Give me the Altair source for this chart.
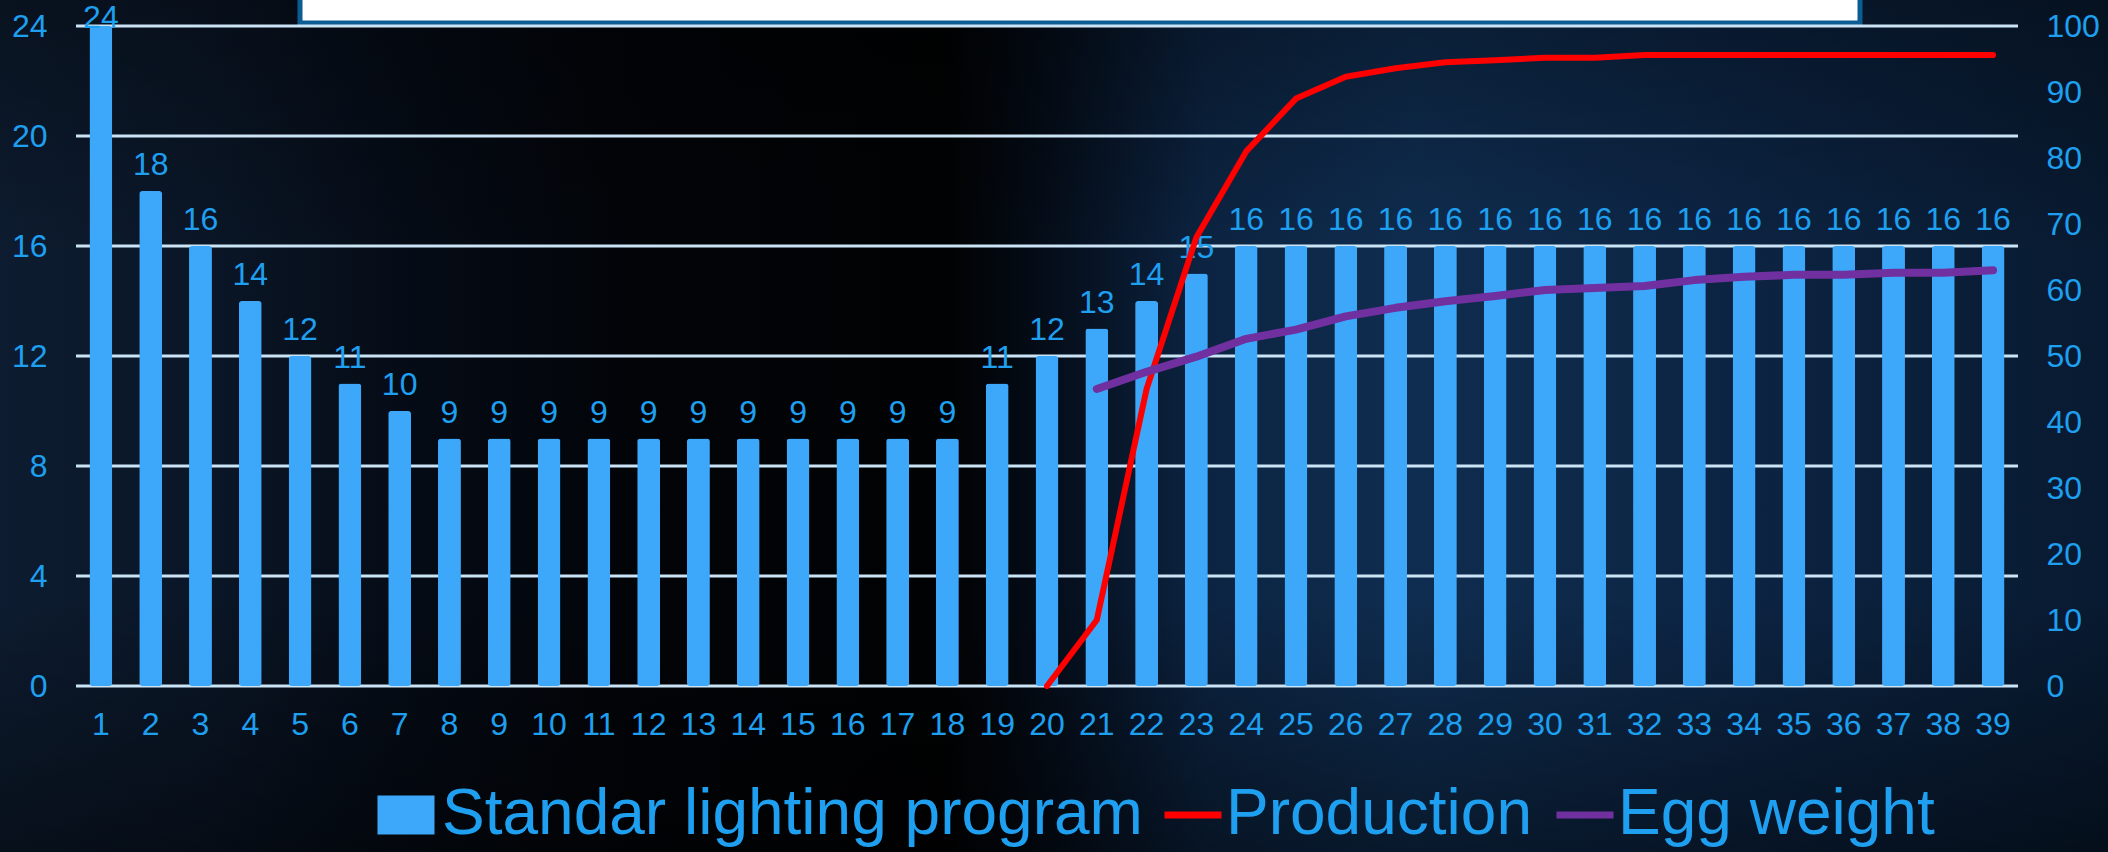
import altair as alt
import pandas as pd

# ---- data -------------------------------------------------------------
weeks = [1, 2, 3, 4, 5, 6, 7, 8, 9, 10, 11, 12, 13, 14, 15, 16, 17, 18, 19, 20,
         21, 22, 23, 24, 25, 26, 27, 28, 29, 30, 31, 32, 33, 34, 35, 36, 37, 38, 39]
light_hours = [24, 18, 16, 14, 12, 11, 10, 9, 9, 9, 9, 9, 9, 9, 9, 9, 9, 9, 11, 12,
               13, 14, 15, 16, 16, 16, 16, 16, 16, 16, 16, 16, 16, 16, 16, 16, 16, 16, 16]

prod_weeks = [20, 21, 22, 23, 24, 25, 26, 27, 28, 29, 30, 31, 32, 33, 34, 35, 36, 37, 38, 39]
production = [0, 10, 45, 68, 81, 89, 92.3, 93.6, 94.5, 94.8, 95.2, 95.2, 95.6, 95.6,
              95.6, 95.6, 95.6, 95.6, 95.6, 95.6]

egg_weeks = [21, 22, 23, 24, 25, 26, 27, 28, 29, 30, 31, 32, 33, 34, 35, 36, 37, 38, 39]
egg_weight = [45.0, 47.6, 49.9, 52.6, 54.0, 56.0, 57.3, 58.3, 59.1, 60.0, 60.3, 60.6,
              61.5, 62.0, 62.3, 62.3, 62.6, 62.6, 63.0]

left_ticks = [0, 4, 8, 12, 16, 20, 24]
right_ticks = [0, 10, 20, 30, 40, 50, 60, 70, 80, 90, 100]
series_names = ["Standar lighting program", "Production", "Egg weight"]

# ---- styling ----------------------------------------------------------
FONT = "Liberation Sans"
BAR = "#3DA8FA"
TEXT = "#1E9FEF"
GRID = "#CBE4F5"
RED = "#FF0000"
PURPLE = "#7030A0"
W, H = 1942, 660
LABEL_SIZE = 32

bars_df = pd.DataFrame({"week": weeks, "hours": light_hours, "series": series_names[0]})
prod_df = pd.DataFrame({"week": prod_weeks, "value": production, "series": series_names[1]})
egg_df = pd.DataFrame({"week": egg_weeks, "value": egg_weight, "series": series_names[2]})
grid_df = pd.DataFrame({"tick": left_ticks})
one_row = pd.DataFrame({"k": [0]})

x_enc = alt.X(
    "week:O",
    scale=alt.Scale(domain=weeks, paddingInner=0.54, paddingOuter=0.27),
    axis=alt.Axis(title=None, labelAngle=0, domain=False, ticks=False, grid=False,
                  labelPadding=23, labelFontSize=LABEL_SIZE, labelColor=TEXT,
                  labelFont=FONT, zindex=1),
)

left_scale = alt.Scale(domain=[0, 24], nice=False, zero=True)
left_axis = alt.Axis(title=None, values=left_ticks, domain=False, ticks=False, grid=False,
                     labelPadding=29, labelFontSize=LABEL_SIZE, labelColor=TEXT,
                     labelFont=FONT, zindex=1)
right_scale = alt.Scale(domain=[0, 100], nice=False, zero=True)
right_axis = alt.Axis(title=None, orient="right", values=right_ticks, domain=False,
                      ticks=False, grid=False, labelPadding=28, labelFontSize=LABEL_SIZE,
                      labelColor=TEXT, labelFont=FONT, zindex=1)

# night-sky backdrop behind the whole slide
sky = alt.LinearGradient(
    gradient="linear", x1=0, x2=1, y1=0, y2=0,
    stops=[
        alt.GradientStop(offset=0.0, color="#0d1c30"),
        alt.GradientStop(offset=0.1, color="#0a1627"),
        alt.GradientStop(offset=0.2, color="#050b15"),
        alt.GradientStop(offset=0.3, color="#020408"),
        alt.GradientStop(offset=0.45, color="#010203"),
        alt.GradientStop(offset=0.5, color="#050e1b"),
        alt.GradientStop(offset=0.57, color="#0c2442"),
        alt.GradientStop(offset=0.67, color="#0f2d50"),
        alt.GradientStop(offset=0.82, color="#0c2443"),
        alt.GradientStop(offset=1.0, color="#081a30"),
    ],
)
shade = alt.LinearGradient(
    gradient="linear", x1=0, x2=0, y1=0, y2=1,
    stops=[
        alt.GradientStop(offset=0.0, color="rgba(0,0,0,0.35)"),
        alt.GradientStop(offset=0.3, color="rgba(0,0,0,0)"),
        alt.GradientStop(offset=0.7, color="rgba(0,0,0,0)"),
        alt.GradientStop(offset=1.0, color="rgba(0,0,0,0.45)"),
    ],
)
backdrop = alt.Chart(one_row).mark_rect(fill=sky).encode(
    x=alt.value(-80), x2=alt.value(2040), y=alt.value(-30), y2=alt.value(830)
)
backdrop_shade = alt.Chart(one_row).mark_rect(fill=shade).encode(
    x=alt.value(-80), x2=alt.value(2040), y=alt.value(-30), y2=alt.value(830)
)

# white title panel at the top edge
title_box = alt.Chart(one_row).mark_rect(fill="white", stroke="#0b5c93", strokeWidth=5).encode(
    x=alt.value(224), x2=alt.value(1784), y=alt.value(-40), y2=alt.value(-3)
)

gridlines = alt.Chart(grid_df).mark_rule(color=GRID, strokeWidth=3).encode(
    y=alt.Y("tick:Q", scale=left_scale, axis=left_axis),
    x=alt.value(0), x2=alt.value("width"),
)

bars = alt.Chart(bars_df).mark_bar(cornerRadius=3).encode(
    x=x_enc,
    y=alt.Y("hours:Q", scale=left_scale, axis=left_axis),
    fill=alt.Fill(
        "series:N",
        scale=alt.Scale(domain=[series_names[0]], range=[BAR]),
        legend=alt.Legend(
            orient="none", legendX=298, legendY=757, direction="horizontal", title=None,
            symbolType="M-1,-0.68H1V0.68H-1Z", symbolSize=3249, symbolStrokeWidth=0,
            labelFontSize=64, labelFont=FONT, labelColor=TEXT, labelOffset=4,
            labelLimit=2000, padding=0,
        ),
    ),
)

labels = alt.Chart(bars_df).transform_calculate(
    label_y="min(datum.hours, 23.35)"
).mark_text(baseline="alphabetic", dy=-16, fontSize=LABEL_SIZE, color=TEXT, font=FONT).encode(
    x=x_enc,
    y=alt.Y("label_y:Q", scale=left_scale, axis=left_axis),
    text="hours:Q",
)

line_stroke = alt.Stroke(
    "series:N",
    scale=alt.Scale(domain=series_names[1:], range=[RED, PURPLE]),
    legend=alt.Legend(
        orient="none", legendX=1085, legendY=757, direction="horizontal", title=None,
        symbolType="stroke", symbolSize=3249, symbolStrokeWidth=7,
        labelFontSize=64, labelFont=FONT, labelColor=TEXT, labelOffset=1,
        columnPadding=10, labelLimit=2000, padding=0,
    ),
)

prod_line = alt.Chart(prod_df).mark_line(strokeWidth=6, strokeJoin="round", strokeCap="round").encode(
    x=x_enc,
    y=alt.Y("value:Q", scale=right_scale, axis=right_axis),
    stroke=line_stroke,
)
egg_line = alt.Chart(egg_df).mark_line(strokeWidth=8, strokeJoin="round", strokeCap="round").encode(
    x=x_enc,
    y=alt.Y("value:Q", scale=right_scale, axis=right_axis),
    stroke=line_stroke,
)

left = alt.layer(backdrop, backdrop_shade, title_box, gridlines, bars, labels)
right = alt.layer(prod_line, egg_line)

chart = (
    alt.layer(left, right)
    .resolve_scale(y="independent")
    .properties(
        width=W,
        height=H,
        padding={"left": 76, "top": 26, "right": 90, "bottom": 166},
        autosize=alt.AutoSizeParams(type="none"),
        background="#07101c",
    )
    .configure_view(stroke=None)
    .configure(font=FONT)
)

chart.save("out.html", embed_options={"renderer": "svg", "actions": False})
